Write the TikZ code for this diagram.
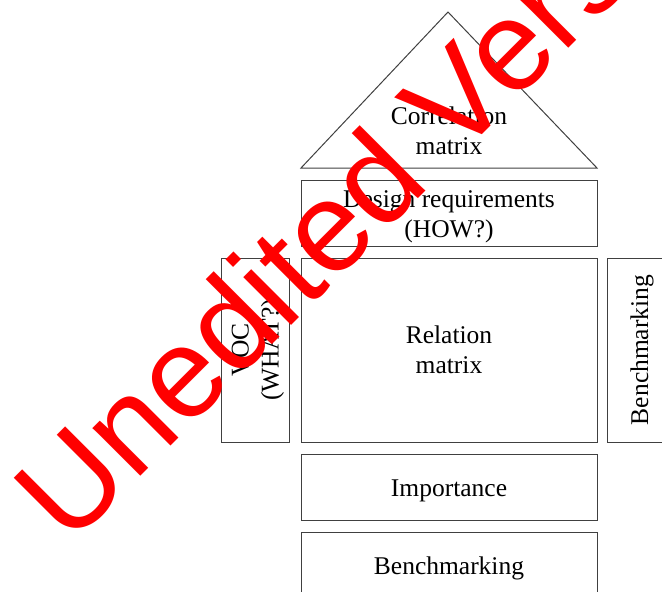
\documentclass[tikz,border=0pt]{standalone}
\usepackage{fontspec}
\setmainfont{Liberation Serif}
\newfontfamily\stampfont{Liberation Sans}
\usetikzlibrary{positioning}
\tikzset{
	part/.style={draw=black!75, line width=1pt, align=center, inner sep=0pt,
		font=\fontsize{25.5}{30}\selectfont},
	wide/.style={part, minimum width=296, minimum height=66},
	tall/.style={part, rotate=90, minimum width=184, minimum height=68},
	stamp/.style={text=red, inner sep=0pt, font=\stampfont\fontsize{128}{128}\selectfont}
}

\begin{document}
\begin{tikzpicture}[x=1pt, y=-1pt]
		%%%%% START %%%%%
		\useasboundingbox (0, 0) rectangle (662, 592);
		\clip (0, 0) rectangle (662, 592);
		
		% roof
		\coordinate (roofl) at (301, 168);
		\coordinate (roofr) at (597, 168);
		\coordinate (rooftop) at (448, 12);
		\draw[line width=1pt, color=black!75] (roofl) -- (rooftop) -- (roofr) -- cycle;
		\node[part, draw=none] (corr) at (449, 131) {Correlation\\matrix};
		
		\node[wide] (design) at (449, 213) {};
		\node[part, draw=none] (designtxt) at (449, 217) {Design requirements\\(HOW?)};
		
		\node[wide, minimum height=184] (relation) at (449, 350) {Relation\\matrix};
		\node[tall] (voc) at (255, 350) {};
		\node[part, draw=none, rotate=90] (voctxt) at (258, 350) {VOC\\(WHAT?)};
		\node[tall, minimum height=70] (benchr) at (642, 350) {Benchmarking};
		
		\node[wide] (importance) at (449, 487) {};
		\node[part, draw=none] (importtxt) at (449, 491) {Importance};
		\node[wide] (benchb) at (449, 565) {};
		\node[part, draw=none] (benchtxt) at (449, 568) {Benchmarking};
		
		% watermark
		\node[stamp, anchor=base west, rotate=45] (unedited) at (69.5, 547.5) {Unedited Version};
		
		%%%%% END %%%%%
	\end{tikzpicture}
\end{document}
